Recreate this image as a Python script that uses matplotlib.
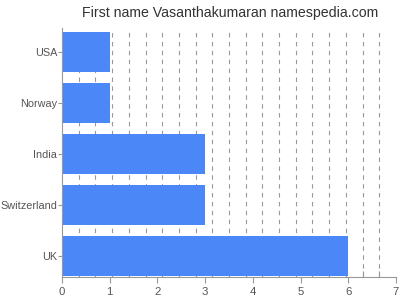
import numpy as np
import matplotlib
matplotlib.use("Agg")
import matplotlib.pyplot as plt

# Chart data
countries = ["USA", "Norway", "India", "Switzerland", "UK"]
counts = [1, 1, 3, 3, 6]
x_ticks = [0, 1, 2, 3, 4, 5, 6, 7]

BAR_COLOR = "#4b87f7"
TEXT_COLOR = "#555555"
AXIS_COLOR = "#999999"

plt.rcParams["font.family"] = ["Liberation Sans", "DejaVu Sans"]

fig = plt.figure(figsize=(4, 3), dpi=100)
ax = fig.add_axes([0.155, 0.077, 0.835, 0.83])

ypos = np.arange(len(countries))
ax.barh(ypos, counts, height=0.78, color=BAR_COLOR, zorder=2)

ax.set_xlim(0, 7)
ax.set_ylim(4.41, -0.47)
ax.set_yticks(ypos)
ax.set_yticklabels(countries)
ax.set_xticks(x_ticks)

# dashed grid every 0.35 units
ax.set_xticks(np.arange(0.35, 7.0, 0.35), minor=True)
ax.grid(axis="x", which="minor", linestyle=(0, (4, 4)), color=AXIS_COLOR,
        linewidth=0.8, zorder=1)
ax.set_axisbelow(True)

for side in ["top", "right"]:
    ax.spines[side].set_visible(False)
for side in ["left", "bottom"]:
    ax.spines[side].set_color(AXIS_COLOR)
    ax.spines[side].set_linewidth(0.8)

ax.tick_params(axis="x", which="major", colors=AXIS_COLOR, labelcolor=TEXT_COLOR,
               labelsize=8.2, length=4, width=0.8)
ax.tick_params(axis="y", which="major", colors=AXIS_COLOR, labelcolor=TEXT_COLOR,
               labelsize=7.8, length=3, width=0.8, pad=0.5)
ax.tick_params(axis="x", which="minor", length=4, width=0.8, colors=AXIS_COLOR,
               direction="in")

fig.text(0.575, 0.958, "First name Vasanthakumaran namespedia.com", ha="center",
         va="center", fontsize=10.2, color="#333333")

fig.savefig("out.png", dpi=100)
